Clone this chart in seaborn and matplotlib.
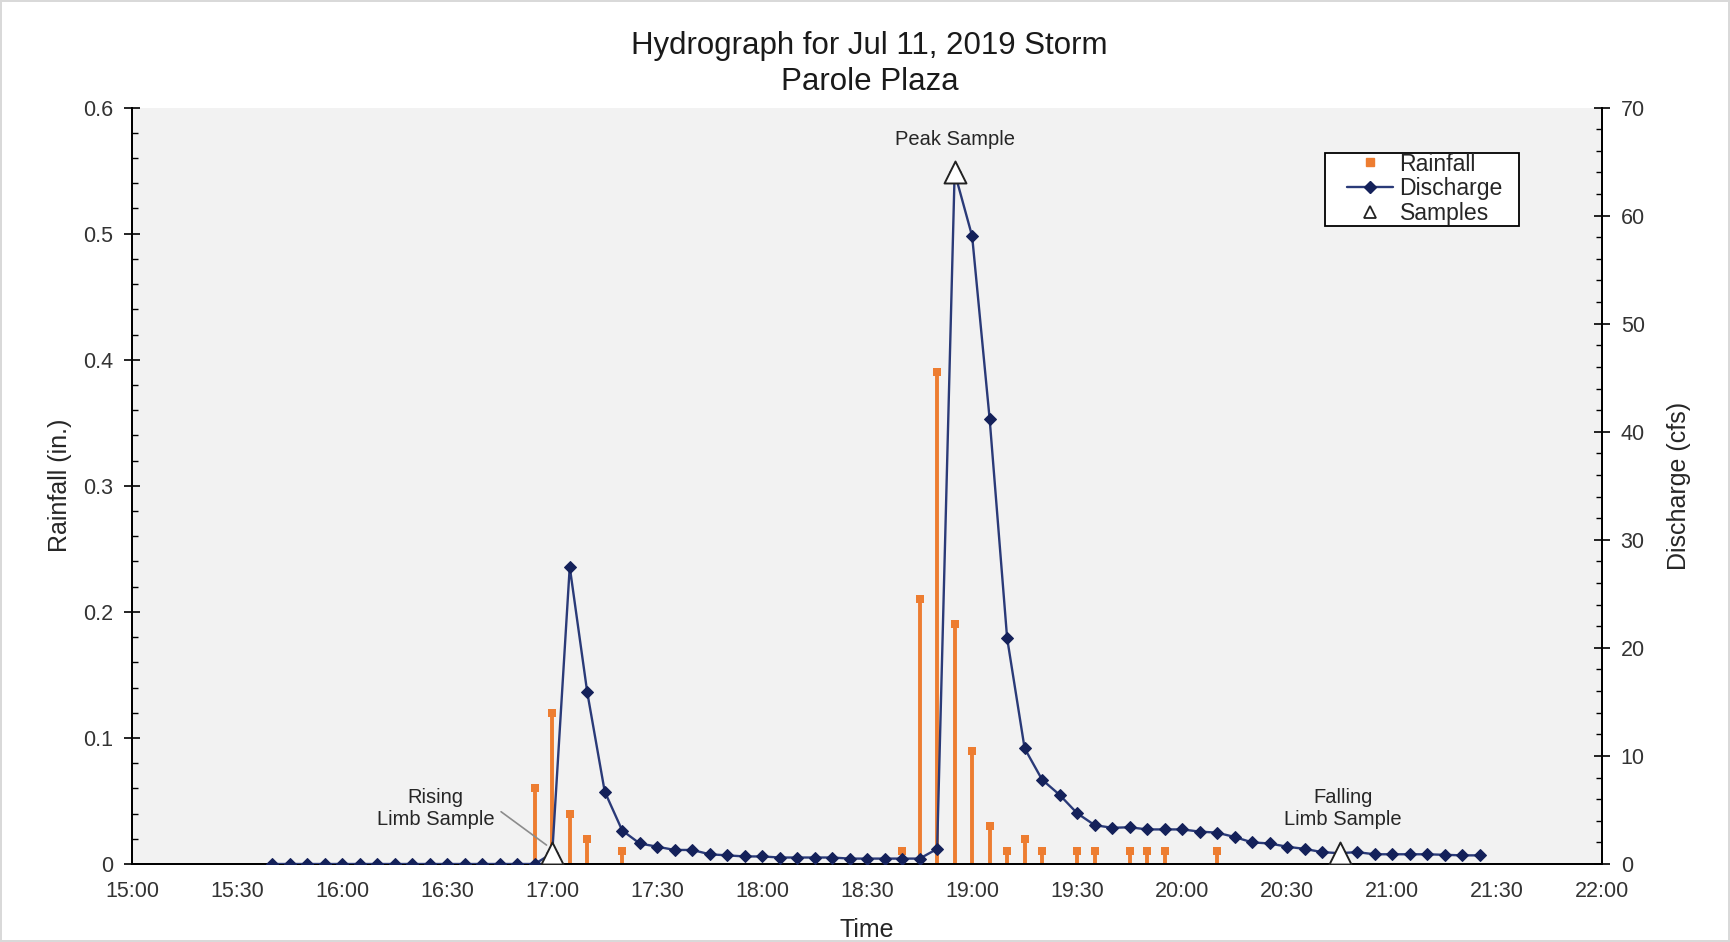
import numpy as np
import pandas as pd
import matplotlib
matplotlib.use("Agg")
import matplotlib.pyplot as plt
import matplotlib.dates as mdates
from matplotlib.lines import Line2D
from matplotlib.patches import Rectangle
from matplotlib.ticker import MultipleLocator
import seaborn as sns

# ---------------- data ----------------
day = "2019-07-11 "
rain_times = ["16:55", "17:00", "17:05", "17:10", "17:20",
              "18:40", "18:45", "18:50", "18:55", "19:00", "19:05", "19:10",
              "19:15", "19:20", "19:30", "19:35", "19:45", "19:50", "19:55", "20:10"]
rain_values = [0.06, 0.12, 0.04, 0.02, 0.01,
               0.01, 0.21, 0.39, 0.19, 0.09, 0.03, 0.01,
               0.02, 0.01, 0.01, 0.01, 0.01, 0.01, 0.01, 0.01]

discharge_start = "15:40"
discharge_end = "21:25"
discharge_values = [0, 0, 0, 0, 0, 0, 0, 0, 0, 0, 0, 0, 0, 0, 0, 0,          # 15:40-16:55
                    1.0, 27.5, 15.9, 6.7, 3.1, 1.9, 1.6, 1.3, 1.3, 0.9, 0.8, 0.7,   # 17:00-17:55
                    0.7, 0.6, 0.6, 0.6, 0.6, 0.5, 0.5, 0.5, 0.5, 0.5, 1.4, 64.0,    # 18:00-18:55
                    58.1, 41.2, 20.9, 10.7, 7.8, 6.4, 4.7, 3.6, 3.35, 3.4, 3.2, 3.2, # 19:00-19:55
                    3.2, 3.0, 2.9, 2.5, 2.0, 1.9, 1.6, 1.4, 1.1, 1.0, 1.1, 0.9,     # 20:00-20:55
                    0.9, 0.9, 0.9, 0.85, 0.8, 0.8]                                  # 21:00-21:25

sample_times = ["17:00", "18:55", "20:45"]
sample_values = [1.0, 64.0, 1.0]
sample_labels = ["Rising\nLimb Sample", "Peak Sample", "Falling\nLimb Sample"]

title_line1 = "Hydrograph for Jul 11, 2019 Storm"
title_line2 = "Parole Plaza"

# ---------------- frames ----------------
rain_df = pd.DataFrame({"time": pd.to_datetime([day + t for t in rain_times]),
                        "rain": rain_values})
q_times = pd.date_range(day + discharge_start, day + discharge_end, freq="5min")
q_df = pd.DataFrame({"time": q_times, "q": discharge_values})
s_df = pd.DataFrame({"time": pd.to_datetime([day + t for t in sample_times]),
                     "q": sample_values})

# ---------------- style ----------------
sns.set_style("white")
plt.rcParams["font.family"] = ["Liberation Sans", "DejaVu Sans"]
plt.rcParams["text.color"] = "#262626"

ORANGE = "#ED7D31"
NAVY = "#14215A"
LINE = "#2A3A78"

fig = plt.figure(figsize=(17.3, 9.42), dpi=100)
fig.patch.set_facecolor("white")
fig.patch.set_edgecolor("#D9D9D9")
fig.patch.set_linewidth(1.5)

ax = fig.add_axes([0.0765, 0.0828, 0.8495, 0.803])
ax.set_facecolor("#F2F2F2")
ax2 = ax.twinx()

# Rainfall stems
ax.vlines(rain_df["time"], 0, rain_df["rain"], color=ORANGE, lw=2.8, zorder=2)
sns.scatterplot(data=rain_df, x="time", y="rain", ax=ax, marker="s", s=30,
                color=ORANGE, edgecolor=ORANGE, linewidth=0, zorder=3, legend=False)

# Discharge
sns.lineplot(data=q_df, x="time", y="q", ax=ax2, color=LINE, lw=1.7,
             marker="D", markersize=6.5, markerfacecolor=NAVY,
             markeredgecolor=NAVY, zorder=3, legend=False)

# Samples
sns.scatterplot(data=s_df, x="time", y="q", ax=ax2, marker="^", s=250,
                facecolor="white", edgecolor="#222222", linewidth=1.4,
                zorder=5, legend=False)

# ---------------- axes ----------------
xmin = pd.Timestamp(day + "15:00")
xmax = pd.Timestamp(day + "22:00")
ax.set_xlim(xmin, xmax)
ax.set_ylim(0, 0.6)
ax2.set_ylim(0, 70)

ax.xaxis.set_major_locator(mdates.MinuteLocator(byminute=[0, 30]))
ax.xaxis.set_major_formatter(mdates.DateFormatter("%H:%M"))
ax.yaxis.set_major_locator(MultipleLocator(0.1))
ax.yaxis.set_minor_locator(MultipleLocator(0.02))
ax.yaxis.set_major_formatter(plt.FuncFormatter(lambda v, p: "0" if abs(v) < 1e-9 else f"{v:.1f}"))
ax2.yaxis.set_major_locator(MultipleLocator(10))
ax2.yaxis.set_minor_locator(MultipleLocator(2))

for a in (ax, ax2):
    for s in a.spines.values():
        s.set_color("black")
        s.set_linewidth(1.3)
    a.spines["top"].set_visible(False)

ax.tick_params(axis="y", which="major", direction="inout", length=11, width=1.2,
               labelsize=15.5, pad=8, colors="black", labelcolor="#333333")
ax.tick_params(axis="y", which="minor", direction="in", length=4, width=1.0, colors="black")
ax.tick_params(axis="x", which="major", direction="inout", length=9, width=1.2,
               labelsize=15.5, pad=8, colors="black", labelcolor="#333333")
ax2.tick_params(axis="y", which="major", direction="inout", length=11, width=1.2,
                labelsize=15.5, pad=8, colors="black", labelcolor="#333333")
ax2.tick_params(axis="y", which="minor", direction="in", length=4, width=1.0, colors="black")

ax.set_xlabel("Time", fontsize=18, color="#262626")
ax.set_ylabel("Rainfall (in.)", fontsize=18, color="#262626")
ax2.set_ylabel("Discharge (cfs)", fontsize=18, color="#262626")
ax.xaxis.set_label_coords(0.5, -0.071)
ax.yaxis.set_label_coords(-0.041, 0.5)
ax2.yaxis.set_label_coords(1.044, 0.5)

# ---------------- annotations ----------------
t = s_df["time"]
ax2.annotate(sample_labels[0], xy=(t[0] - pd.Timedelta(minutes=1), 1.6),
             xytext=(pd.Timestamp(day + "16:26:40"), 5.1),
             ha="center", va="center", fontsize=14.5, color="#262626",
             arrowprops=dict(arrowstyle="-", color="#8C8C8C", lw=1.2,
                             relpos=(1.0, 0.55), shrinkA=3, shrinkB=2),
             zorder=6)
ax2.text(t[1], 67.0, sample_labels[1], ha="center", va="center", fontsize=14.5,
         color="#262626", zorder=6)
ax2.text(t[2] + pd.Timedelta(minutes=1), 5.1, sample_labels[2], ha="center",
         va="center", fontsize=14.5, color="#262626", zorder=6)

# ---------------- title ----------------
fig.text(0.5026, 0.9515, title_line1, ha="center", va="center", fontsize=22.5, color="#1a1a1a")
fig.text(0.5026, 0.9125, title_line2, ha="center", va="center", fontsize=22.5, color="#1a1a1a")

# ---------------- legend ----------------
handles = [
    Line2D([], [], linestyle="none", marker="s", markersize=6,
           markerfacecolor=ORANGE, markeredgecolor=ORANGE),
    Line2D([], [], color=LINE, lw=1.7, marker="D", markersize=6.5,
           markerfacecolor=NAVY, markeredgecolor=NAVY),
    Line2D([], [], linestyle="none", marker="^", markersize=9,
           markerfacecolor="white", markeredgecolor="#222222", markeredgewidth=1.3),
]
box = Rectangle((0.8115, 0.8428), 0.132, 0.0977, transform=ax2.transAxes,
                facecolor="white", edgecolor="black", linewidth=1.3, zorder=9)
ax2.add_patch(box)
leg = ax2.legend(handles, ["Rainfall", "Discharge", "Samples"],
                 loc="center left", bbox_to_anchor=(0.8262, 0.8925),
                 fontsize=16.6, frameon=False, borderpad=0, labelspacing=0.08,
                 handlelength=2.0, handletextpad=0.3, borderaxespad=0)
leg.set_zorder(10)

fig.savefig("out.png", dpi=100, facecolor=fig.get_facecolor(),
            edgecolor=fig.get_edgecolor())
